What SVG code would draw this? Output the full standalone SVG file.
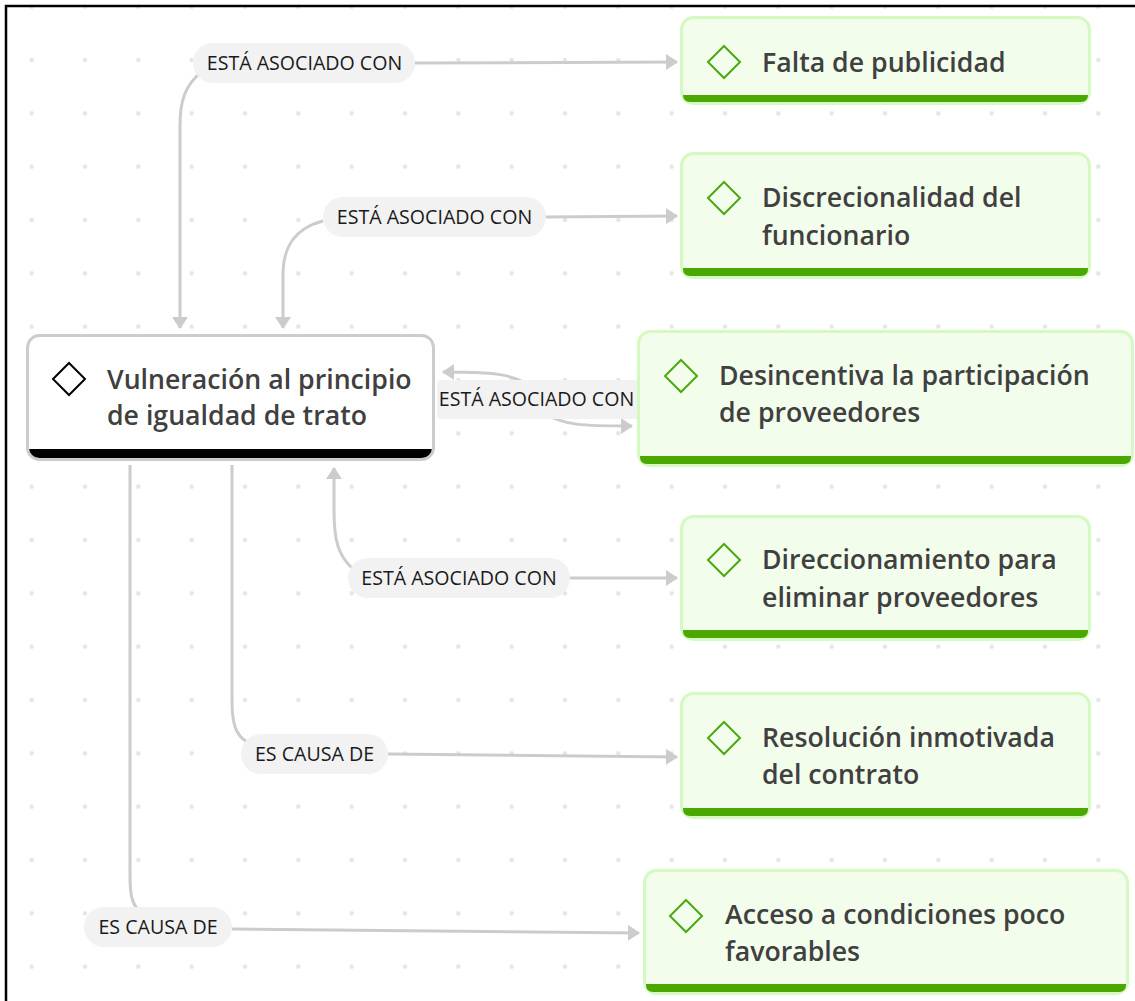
<svg xmlns="http://www.w3.org/2000/svg" width="1135" height="1001" viewBox="0 0 1135 1001">
<style>
.lbl{font-family:"Open Sans","Liberation Sans",sans-serif;font-size:19.6px;fill:#1a1a1a;text-anchor:middle}
.pill{fill:#f2f2f2}
.ntx{font-family:"Open Sans","Liberation Sans",sans-serif;font-size:26.7px;font-weight:600;fill:#404040}
.gbox{fill:#f3fdec;stroke:#d4fac2;stroke-width:3}
.gbar{fill:#4ba800}
.gdia{fill:none;stroke:#4aa812;stroke-width:2}
.conn{fill:none;stroke:#cccccc;stroke-width:3}
</style>
<defs>
<pattern id="dots" x="5" y="-20" width="53.333" height="53.333" patternUnits="userSpaceOnUse">
<circle cx="26.67" cy="26.67" r="2.2" fill="#e4e4ea"/>
</pattern>
<marker id="arr" viewBox="0 0 12 16" refX="11" refY="8" markerWidth="12" markerHeight="16" markerUnits="userSpaceOnUse" orient="auto">
<path d="M0,0 L12,8 L0,16 z" fill="#cccccc"/>
</marker>
</defs>
<rect width="1135" height="1001" fill="#ffffff"/>
<rect width="1135" height="1001" fill="url(#dots)"/>
<path d="M6,1001 V6 H1135" fill="none" stroke="#000" stroke-width="2.5"/>

<g id="connectors">
<path class="conn" d="M198,75 C186,86 180,100 180,125 L180,328" marker-end="url(#arr)"/>
<path class="conn" d="M415,63 L677,62" marker-end="url(#arr)"/>
<path class="conn" d="M323,221 C296,228 283,245 283,275 L283,328" marker-end="url(#arr)"/>
<path class="conn" d="M546,217 L677,216" marker-end="url(#arr)"/>
<path class="conn" d="M530,385 C510,374 495,372 443,372" marker-end="url(#arr)"/>
<path class="conn" d="M545,414 C565,425 580,426 632,426" marker-end="url(#arr)"/>
<path class="conn" d="M352,568 C338,555 334,540 334,510 L334,468" marker-end="url(#arr)"/>
<path class="conn" d="M570,578 L677,578" marker-end="url(#arr)"/>
<path class="conn" d="M232,465 L232,700 C232,725 236,735 247,742"/>
<path class="conn" d="M388,754 L677,757" marker-end="url(#arr)"/>
<path class="conn" d="M130,465 L130,875 C130,895 132,903 138,910"/>
<path class="conn" d="M232,929 L639,933" marker-end="url(#arr)"/>
</g>

<g id="labels">
<rect class="pill" x="193" y="43" width="222" height="40" rx="20"/>
<text class="lbl" x="304.5" y="70">ESTÁ ASOCIADO CON</text>
<rect class="pill" x="323" y="197" width="223" height="40" rx="20"/>
<text class="lbl" x="434.5" y="224">ESTÁ ASOCIADO CON</text>
<rect class="pill" x="437" y="380" width="203" height="39" rx="4"/>
<text class="lbl" x="536.5" y="406">ESTÁ ASOCIADO CON</text>
<rect class="pill" x="348" y="558" width="222" height="40" rx="20"/>
<text class="lbl" x="459" y="585">ESTÁ ASOCIADO CON</text>
<rect class="pill" x="241" y="734" width="147" height="40" rx="20"/>
<text class="lbl" x="314.5" y="761">ES CAUSA DE</text>
<rect class="pill" x="84" y="907" width="148" height="40" rx="20"/>
<text class="lbl" x="158" y="934">ES CAUSA DE</text>
</g>

<g id="node-central">
<rect x="27.5" y="335.5" width="406" height="124" rx="12" fill="#ffffff"/>
<path d="M29,449 H432 V450 Q432,458 424,458 H37 Q29,458 29,450 Z" fill="#000"/>
<rect x="27.5" y="335.5" width="406" height="124" rx="12" fill="none" stroke="#cccccc" stroke-width="3"/>
<path d="M69,363 L85,379 L69,395 L53,379 Z" fill="none" stroke="#000" stroke-width="2"/>
<text class="ntx" x="107" y="389">Vulneración al principio</text>
<text class="ntx" x="107" y="425">de igualdad de trato</text>
</g>

<g id="node-falta">
<rect class="gbox" x="681.5" y="17.5" width="408" height="86" rx="12"/>
<path class="gbar" d="M683,95 H1088 V95 Q1088,102 1081,102 H690 Q683,102 683,95 Z"/>
<path class="gdia" d="M724,46 L740,62 L724,78 L708,62 Z"/>
<text class="ntx" x="762" y="71.5">Falta de publicidad</text>
</g>

<g id="node-discrecionalidad">
<rect class="gbox" x="681.5" y="153.5" width="408" height="124" rx="12"/>
<path class="gbar" d="M683,268 H1088 V269 Q1088,276 1081,276 H690 Q683,276 683,269 Z"/>
<path class="gdia" d="M724,182 L740,198 L724,214 L708,198 Z"/>
<text class="ntx" x="762" y="207">Discrecionalidad del</text>
<text class="ntx" x="762" y="245">funcionario</text>
</g>

<g id="node-desincentiva">
<rect class="gbox" x="638.5" y="331.5" width="494" height="134" rx="12"/>
<path class="gbar" d="M640,456 H1131 V457 Q1131,464 1124,464 H647 Q640,464 640,457 Z"/>
<path class="gdia" d="M681,360 L697,376 L681,392 L665,376 Z"/>
<text class="ntx" x="719" y="385">Desincentiva la participación</text>
<text class="ntx" x="719" y="422">de proveedores</text>
</g>

<g id="node-direccionamiento">
<rect class="gbox" x="681.5" y="516.5" width="408" height="123" rx="12"/>
<path class="gbar" d="M683,630 H1088 V631 Q1088,638 1081,638 H690 Q683,638 683,631 Z"/>
<path class="gdia" d="M724,544 L740,560 L724,576 L708,560 Z"/>
<text class="ntx" x="762" y="569">Direccionamiento para</text>
<text class="ntx" x="762" y="607">eliminar proveedores</text>
</g>

<g id="node-resolucion">
<rect class="gbox" x="681.5" y="693.5" width="408" height="124" rx="12"/>
<path class="gbar" d="M683,808 H1088 V809 Q1088,816 1081,816 H690 Q683,816 683,809 Z"/>
<path class="gdia" d="M724,722 L740,738 L724,754 L708,738 Z"/>
<text class="ntx" x="762" y="747">Resolución inmotivada</text>
<text class="ntx" x="762" y="784">del contrato</text>
</g>

<g id="node-acceso">
<rect class="gbox" x="644.5" y="870.5" width="483" height="123" rx="12"/>
<path class="gbar" d="M646,984 H1126 V985 Q1126,992 1119,992 H653 Q646,992 646,985 Z"/>
<path class="gdia" d="M686,900 L702,916 L686,932 L670,916 Z"/>
<text class="ntx" x="725" y="924">Acceso a condiciones poco</text>
<text class="ntx" x="725" y="961">favorables</text>
</g>
</svg>
